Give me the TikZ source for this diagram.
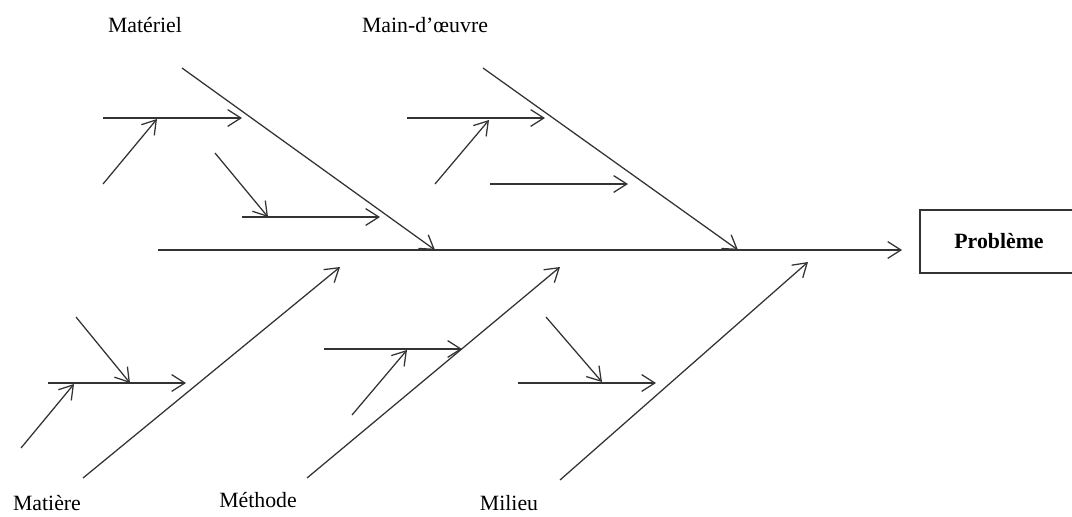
\documentclass[tikz,border=0pt]{standalone}
\usepackage{fontspec}
\setmainfont{Liberation Serif}
\usetikzlibrary{arrows.meta,positioning}
\definecolor{fb-line}{HTML}{333333}

\tikzset{
  bone/.style={fb-line, line width=0.9pt, -{Straight Barb[length=3.3mm,width=4.2mm,line width=0.9pt]}},
  cause/.style={font=\fontsize{15.5}{18}\selectfont, inner sep=0pt},
  effect/.style={draw=fb-line, line width=1pt, minimum width=3.95cm, minimum height=1.58cm,
    font=\fontsize{15.5}{18}\selectfont\bfseries}
}

\begin{document}
\begin{tikzpicture}[x=0.025cm, y=-0.025cm]
\useasboundingbox (0,0) rectangle (1072,516);

% effect box and spine
\node[effect] (prob) at (999,241.5) {Problème};
\coordinate (spine) at (158,250);
\draw[bone, shorten >=0.43cm] (spine) -- (spine -| prob.west);

% labels
\node[cause] (lmat) at (145,25) {Matériel};
\node[cause] (lmo) at (425,25) {Main-d’œuvre};
\node[cause] (lmi) at (47,503) {Matière};
\node[cause] (lme) at (258,500) {Méthode};
\node[cause] (lmil) at (509,503) {Milieu};

% upper bones
\coordinate (matS) at (182,68);  \coordinate (matE) at (435,250);
\coordinate (moS) at (483,68);   \coordinate (moE) at (738,250);
\draw[bone] (matS) -- (matE);
\draw[bone] (moS) -- (moE);

% Materiel sub-causes
\coordinate (a1) at (103,118); \coordinate (a2) at (242,118);
\coordinate (a3) at (103,184); \coordinate (a4) at (157,119);
\coordinate (a5) at (215,153); \coordinate (a6) at (268,217);
\coordinate (a7) at (242,217); \coordinate (a8) at (380,217);
\draw[bone] (a1) -- (a2);
\draw[bone] (a3) -- (a4);
\draw[bone] (a5) -- (a6);
\draw[bone] (a7) -- (a8);

% Main-d'oeuvre sub-causes
\coordinate (b1) at (407,118); \coordinate (b2) at (545,118);
\coordinate (b3) at (435,184); \coordinate (b4) at (489,120);
\coordinate (b5) at (490,184); \coordinate (b6) at (628,184);
\draw[bone] (b1) -- (b2);
\draw[bone] (b3) -- (b4);
\draw[bone] (b5) -- (b6);

% lower bones
\coordinate (miS) at (83,478);   \coordinate (miE) at (340,267);
\coordinate (meS) at (307,478);  \coordinate (meE) at (560,267);
\coordinate (milS) at (560,480); \coordinate (milE) at (808,262);
\draw[bone] (miS) -- (miE);
\draw[bone] (meS) -- (meE);
\draw[bone] (milS) -- (milE);

% Matiere sub-causes
\coordinate (c1) at (48,383);  \coordinate (c2) at (186,383);
\coordinate (c3) at (21,448);  \coordinate (c4) at (74,384);
\coordinate (c5) at (76,317);  \coordinate (c6) at (130,383);
\draw[bone] (c1) -- (c2);
\draw[bone] (c3) -- (c4);
\draw[bone] (c5) -- (c6);

% Methode sub-causes
\coordinate (d1) at (324,349); \coordinate (d2) at (462,349);
\coordinate (d3) at (352,415); \coordinate (d4) at (407,350);
\draw[bone] (d1) -- (d2);
\draw[bone] (d3) -- (d4);

% Milieu sub-causes
\coordinate (e1) at (518,383); \coordinate (e2) at (656,383);
\coordinate (e3) at (546,317); \coordinate (e4) at (602,382);
\draw[bone] (e1) -- (e2);
\draw[bone] (e3) -- (e4);
\end{tikzpicture}
\end{document}
